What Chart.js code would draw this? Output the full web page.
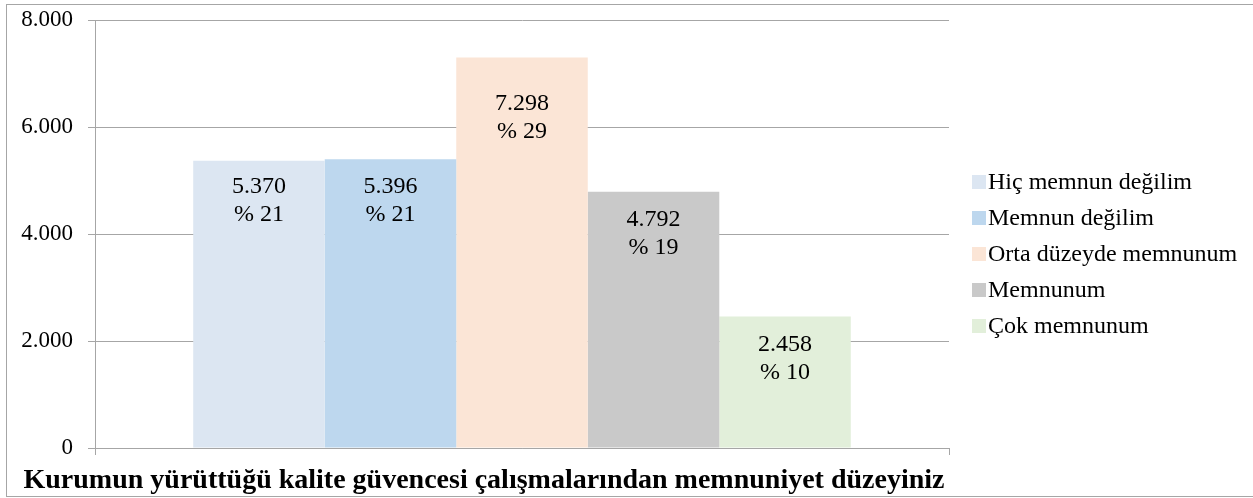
<!DOCTYPE html>
<html>
<head>
<meta charset="utf-8">
<script src="https://cdn.jsdelivr.net/npm/chart.js@4.4.1/dist/chart.umd.min.js"></script>
<style>
html,body{margin:0;padding:0;background:#fff;}
#wrap{position:relative;width:1253px;height:498px;}
</style>
</head>
<body>
<div id="wrap"><canvas id="c" width="1253" height="498"></canvas></div>
<script>
// ---- data ----
const categories = ['Kurumun yürüttüğü kalite güvencesi çalışmalarından memnuniyet düzeyiniz'];
const seriesNames = ['Hiç memnun değilim', 'Memnun değilim', 'Orta düzeyde memnunum', 'Memnunum', 'Çok memnunum'];
const seriesValues = [5370, 5396, 7298, 4792, 2458];
const seriesPercents = [21, 21, 29, 19, 10];
const yTicks = [0, 2000, 4000, 6000, 8000];

// ---- styles ----
const seriesColors = ['#DCE6F2', '#BDD7EE', '#FBE5D6', '#C9C9C9', '#E2EFDA'];
const labelOffsets = [26, 27, 46, 28, 28];
const FONT = "'Liberation Serif', 'Times New Roman', serif";
const GRID = '#a6a6a6';

function fmt(v) {
  return String(Math.round(v)).replace(/\B(?=(\d{3})+(?!\d))/g, '.');
}

const datasets = seriesNames.map((name, i) => ({
  label: name,
  data: [seriesValues[i]],
  backgroundColor: seriesColors[i],
  borderWidth: 0,
  categoryPercentage: 0.77,
  barPercentage: 1.0
}));

const decor = {
  id: 'decor',
  beforeDraw(chart) {
    const ctx = chart.ctx;
    ctx.save();
    ctx.fillStyle = '#fff';
    ctx.fillRect(0, 0, chart.width, chart.height);
    ctx.strokeStyle = GRID;
    ctx.lineWidth = 1;
    ctx.strokeRect(6.5, 4.5, 1260, 492);
    ctx.restore();
  },
  afterDatasetsDraw(chart) {
    const ctx = chart.ctx;
    ctx.save();
    ctx.fillStyle = '#000';
    ctx.font = '24px ' + FONT;
    ctx.textAlign = 'center';
    ctx.textBaseline = 'middle';
    chart.data.datasets.forEach((ds, i) => {
      const el = chart.getDatasetMeta(i).data[0];
      const y0 = el.y + labelOffsets[i];
      ctx.fillText(fmt(seriesValues[i]), el.x, y0);
      ctx.fillText('% ' + seriesPercents[i], el.x, y0 + 28);
    });
    ctx.restore();
  },
  afterDraw(chart) {
    const ctx = chart.ctx;
    ctx.save();
    // axis title
    ctx.fillStyle = '#000';
    ctx.font = 'bold 28px ' + FONT;
    ctx.textAlign = 'center';
    ctx.textBaseline = 'alphabetic';
    ctx.fillText(categories[0], 484, 488);
    // legend
    ctx.font = '24px ' + FONT;
    ctx.textAlign = 'left';
    ctx.textBaseline = 'middle';
    chart.data.datasets.forEach((ds, i) => {
      const cy = 182 + i * 36;
      ctx.fillStyle = ds.backgroundColor;
      ctx.fillRect(972, cy - 7, 14, 14);
      ctx.fillStyle = '#000';
      ctx.fillText(ds.label, 988, cy + 1);
    });
    ctx.restore();
  }
};

new Chart(document.getElementById('c'), {
  type: 'bar',
  data: { labels: categories, datasets },
  options: {
    responsive: false,
    animation: false,
    devicePixelRatio: 1,
    layout: { padding: { top: 20, right: 304, bottom: 0, left: 0 } },
    plugins: { legend: { display: false }, tooltip: { enabled: false } },
    scales: {
      x: {
        offset: true,
        ticks: { display: false },
        grid: { drawOnChartArea: false, color: GRID, tickLength: 7, offset: true },
        border: { color: GRID },
        afterFit(s) { s.height = 50; s.paddingLeft = 0; s.paddingRight = 0; }
      },
      y: {
        min: 0, max: 8000,
        afterBuildTicks(s) { s.ticks = yTicks.map(v => ({ value: v })); },
        ticks: {
          color: '#000',
          font: { family: FONT, size: 23 },
          padding: 15,
          callback: v => fmt(v)
        },
        grid: { color: GRID, tickLength: 7 },
        border: { color: GRID },
        afterFit(s) { s.width = 95; s.paddingTop = 0; s.paddingBottom = 0; }
      }
    }
  },
  plugins: [decor]
});
</script>
</body>
</html>
